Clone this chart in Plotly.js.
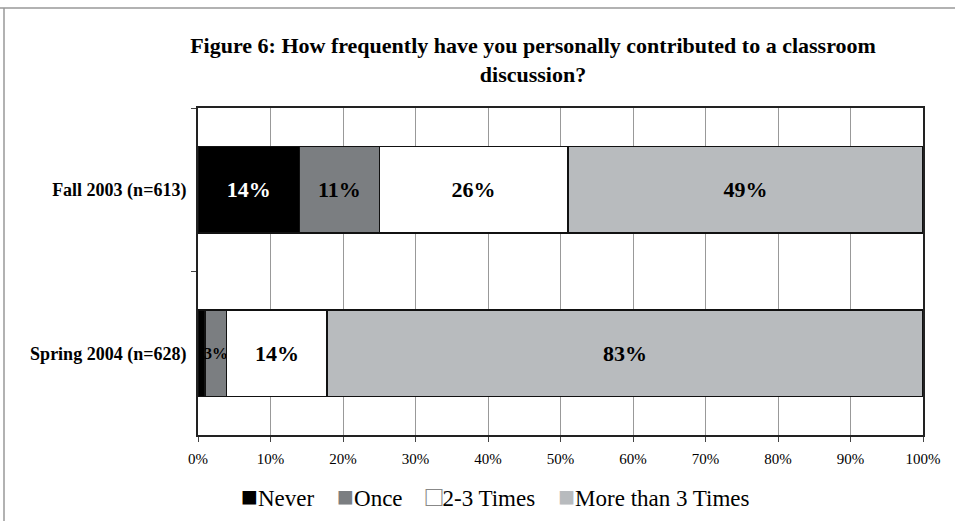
<!DOCTYPE html>
<html>
<head>
<meta charset="utf-8">
<script src="https://cdn.plot.ly/plotly-3.0.1.min.js"></script>
<style>html,body{margin:0;padding:0;background:#fff;}#chart{width:955px;height:521px;}</style>
</head>
<body>
<div id="chart"></div>
<script>
const categories = ["Fall 2003 (n=613)", "Spring 2004 (n=628)"];
const seriesNames = ["Never", "Once", "2-3 Times", "More than 3 Times"];
const never = [14, 1];
const once = [11, 3];
const twoThree = [26, 14];
const moreThan3 = [49, 83];
const xTickVals = [0, 10, 20, 30, 40, 50, 60, 70, 80, 90, 100];
const xTickText = ["0%", "10%", "20%", "30%", "40%", "50%", "60%", "70%", "80%", "90%", "100%"];
const titleLines = ["Figure 6: How frequently have you personally contributed to a classroom", "discussion?"];

const colors = ["#000000", "#7b7e81", "#ffffff", "#b8bbbe"];
const textColors = ["#ffffff", "#000000", "#000000", "#000000"];
const allSeries = [never, once, twoThree, moreThan3];
const FONT = "Liberation Serif, Times New Roman, serif";

const traces = allSeries.map((vals, i) => ({
  type: "bar",
  orientation: "h",
  name: seriesNames[i],
  y: categories,
  x: vals,
  text: vals.map(v => v >= 2 ? "<b>" + v + "%</b>" : ""),
  textposition: "inside",
  insidetextanchor: "middle",
  constraintext: "none",
  textangle: 0,
  textfont: {family: FONT, size: vals.map(v => v < 5 ? 16 : 22), color: textColors[i]},
  hoverinfo: "skip",
  showlegend: false,
  marker: {color: colors[i], line: {color: "#111", width: 1.5}}
}));

// legend built as one text line from the series names and colours
const legendText = seriesNames.map((n, i) => {
  const glyph = colors[i] === "#ffffff"
    ? '<span style="color:#888;font-size:28px">□</span>'
    : '<span style="color:' + colors[i] + ';font-size:28px">■</span>';
  return glyph + n;
}).join("    ");

const layout = {
  width: 955, height: 521,
  margin: {l: 198, r: 32, t: 108, b: 86, autoexpand: false},
  paper_bgcolor: "#fff", plot_bgcolor: "#fff",
  barmode: "stack",
  barnorm: "percent",
  bargap: 0.47,
  showlegend: false,
  title: {
    text: "<b>" + titleLines.join("<br>") + "</b>",
    font: {family: FONT, size: 22, color: "#000"},
    x: 533 / 955, xanchor: "center", y: 1 - 53 / 521, yanchor: "middle"
  },
  xaxis: {
    range: [0, 100],
    tickvals: xTickVals, ticktext: xTickText,
    tickfont: {family: FONT, size: 15, color: "#000"},
    showgrid: true, gridcolor: "#999", gridwidth: 1,
    showline: true, linecolor: "#222", linewidth: 2, mirror: true,
    ticks: "outside", ticklen: 5, tickcolor: "#444", ticklabelstandoff: 4,
    zeroline: false, fixedrange: true
  },
  yaxis: {
    autorange: "reversed",
    type: "category",
    tickfont: {family: FONT, size: 18, color: "#000", weight: "bold"},
    showline: true, linecolor: "#222", linewidth: 2, mirror: true,
    ticks: "outside", ticklen: 5, tickcolor: "#444", tickson: "boundaries",
    showgrid: false, fixedrange: true, ticklabelstandoff: 6
  },
  annotations: [
    {
      xref: "paper", yref: "paper", x: (495 - 198) / 725, y: -(496 - 435) / 327,
      xanchor: "center", yanchor: "middle", showarrow: false,
      text: legendText,
      font: {family: FONT, size: 23, color: "#000"}
    }
  ],
  shapes: [
    {type: "line", xref: "paper", yref: "paper", x0: -0.28, x1: 1.1, y0: 1 + 100/327, y1: 1 + 100/327, line: {color: "#999", width: 1.5}},
    {type: "line", xref: "paper", yref: "paper", x0: -194/725, x1: -194/725, y0: -0.5, y1: 1 + 100/327, line: {color: "#999", width: 1.5}}
  ]
};

Plotly.newPlot("chart", traces, layout, {displayModeBar: false, staticPlot: true});
</script>
</body>
</html>
